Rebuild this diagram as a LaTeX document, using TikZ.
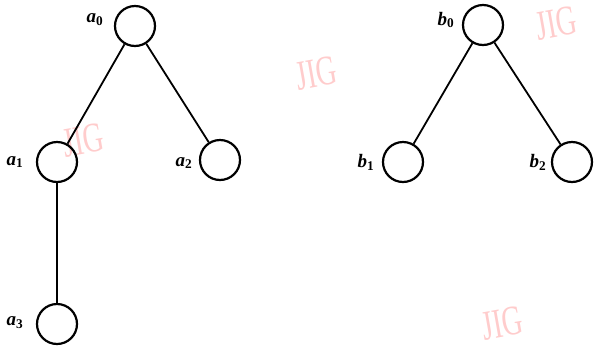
\documentclass[tikz,border=0pt]{standalone}
\usepackage{fontspec}
\setmainfont{Liberation Serif}
\newfontfamily\wmfont[FakeStretch=0.68]{Liberation Serif}
\newcommand{\vlab}[2]{\textbf{\textit{#1}}\textsubscript{\textbf{#2}}}
\begin{document}
\begin{tikzpicture}[x=1pt,y=-1pt,
  vert/.style={circle,draw,line width=2.2pt,minimum size=40pt,inner sep=0pt},
  lab/.style={font=\fontsize{19}{19}\selectfont},
  edge/.style={line width=1.8pt},
  wm/.style={text=red!20,font=\wmfont\fontsize{42}{42}\selectfont,rotate=10,inner sep=0pt}]
\useasboundingbox (0,0) rectangle (595,349);
\node[wm] (w1) at (316,73) {JIG};
\node[wm] (w2) at (83,140) {JIG};
\node[wm] (w3) at (556,23) {JIG};
\node[wm] (w4) at (502,323) {JIG};
\node[vert] (a0) at (135,26) {};
\node[vert] (a1) at (57,162) {};
\node[vert] (a2) at (220,160) {};
\node[vert] (a3) at (57,324) {};
\node[vert] (b0) at (483,25) {};
\node[vert] (b1) at (403,162) {};
\node[vert] (b2) at (572,162) {};
\node[lab] (la0) at (95,20) {\vlab{a}{0}};
\node[lab] (la1) at (15,162) {\vlab{a}{1}};
\node[lab] (la2) at (184,163) {\vlab{a}{2}};
\node[lab] (la3) at (15,323) {\vlab{a}{3}};
\node[lab] (lb0) at (446,20) {\vlab{b}{0}};
\node[lab] (lb1) at (366,162) {\vlab{b}{1}};
\node[lab] (lb2) at (538,162) {\vlab{b}{2}};
\draw[edge] (a0) -- (a1);
\draw[edge] (a0) -- (a2);
\draw[edge] (a1) -- (a3);
\draw[edge] (b0) -- (b1);
\draw[edge] (b0) -- (b2);
\end{tikzpicture}
\end{document}
